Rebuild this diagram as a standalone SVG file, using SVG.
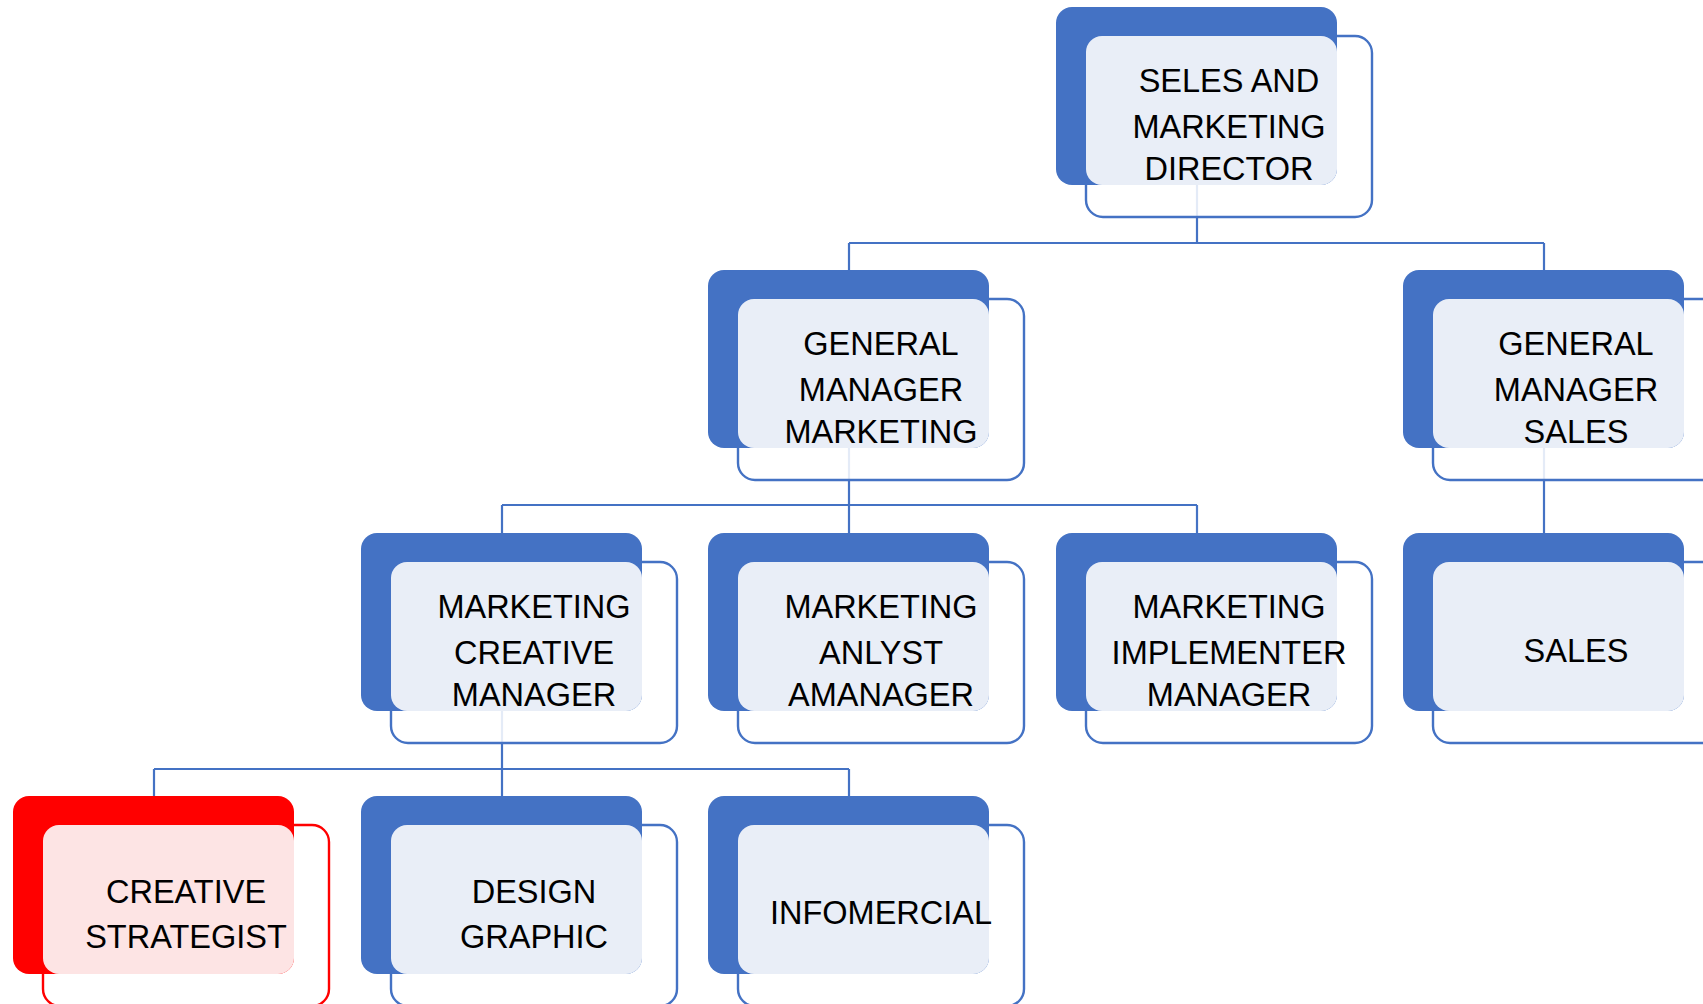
<svg xmlns="http://www.w3.org/2000/svg" width="1703" height="1004" viewBox="0 0 1703 1004">
<style>
.bg{fill:#ffffff}
.ol{fill:#ffffff;fill-opacity:0.86;stroke:#4472C4;stroke-width:2.4}
.bk{fill:#4472C4}
.lt{fill:#E9EEF7}
.red .ol{stroke:#FF0000}
.red .bk{fill:#FF0000}
.red .lt{fill:#FDE4E4}
.t{font-family:"Liberation Sans",Arial,sans-serif;font-size:32.5px;fill:#000;text-anchor:middle}
.c{fill:none;stroke:#4472C4;stroke-width:2.2}
</style>
<rect class="bg" x="0" y="0" width="1703" height="1004"/>
<g id="connectors">
<path class="c" d="M1197 185V243M849 243H1544M849 243V270M1544 243V270"/>
<path class="c" d="M849 448V505M502 505H1197M502 505V533M849 505V533M1197 505V533"/>
<path class="c" d="M1544 448V533"/>
<path class="c" d="M502 711V769M154 769H849M154 769V796M502 769V796M849 769V796"/>
</g>
<g id="n-director">
<rect class="ol" x="1086" y="36" width="286" height="181" rx="17"/>
<rect class="bk" x="1056" y="7" width="281" height="178" rx="16"/>
<rect class="lt" x="1086" y="36" width="251" height="149" rx="16"/>
<text class="t" x="1229" y="92">SELES AND</text>
<text class="t" x="1229" y="138">MARKETING</text>
<text class="t" x="1229" y="180">DIRECTOR</text>
</g>
<g id="n-gm-marketing">
<rect class="ol" x="738" y="299" width="286" height="181" rx="17"/>
<rect class="bk" x="708" y="270" width="281" height="178" rx="16"/>
<rect class="lt" x="738" y="299" width="251" height="149" rx="16"/>
<text class="t" x="881" y="355">GENERAL</text>
<text class="t" x="881" y="401">MANAGER</text>
<text class="t" x="881" y="443">MARKETING</text>
</g>
<g id="n-gm-sales">
<rect class="ol" x="1433" y="299" width="286" height="181" rx="17"/>
<rect class="bk" x="1403" y="270" width="281" height="178" rx="16"/>
<rect class="lt" x="1433" y="299" width="251" height="149" rx="16"/>
<text class="t" x="1576" y="355">GENERAL</text>
<text class="t" x="1576" y="401">MANAGER</text>
<text class="t" x="1576" y="443">SALES</text>
</g>
<g id="n-creative-manager">
<rect class="ol" x="391" y="562" width="286" height="181" rx="17"/>
<rect class="bk" x="361" y="533" width="281" height="178" rx="16"/>
<rect class="lt" x="391" y="562" width="251" height="149" rx="16"/>
<text class="t" x="534" y="618">MARKETING</text>
<text class="t" x="534" y="664">CREATIVE</text>
<text class="t" x="534" y="706">MANAGER</text>
</g>
<g id="n-analyst-manager">
<rect class="ol" x="738" y="562" width="286" height="181" rx="17"/>
<rect class="bk" x="708" y="533" width="281" height="178" rx="16"/>
<rect class="lt" x="738" y="562" width="251" height="149" rx="16"/>
<text class="t" x="881" y="618">MARKETING</text>
<text class="t" x="881" y="664">ANLYST</text>
<text class="t" x="881" y="706">AMANAGER</text>
</g>
<g id="n-implementer-manager">
<rect class="ol" x="1086" y="562" width="286" height="181" rx="17"/>
<rect class="bk" x="1056" y="533" width="281" height="178" rx="16"/>
<rect class="lt" x="1086" y="562" width="251" height="149" rx="16"/>
<text class="t" x="1229" y="618">MARKETING</text>
<text class="t" x="1229" y="664">IMPLEMENTER</text>
<text class="t" x="1229" y="706">MANAGER</text>
</g>
<g id="n-sales">
<rect class="ol" x="1433" y="562" width="286" height="181" rx="17"/>
<rect class="bk" x="1403" y="533" width="281" height="178" rx="16"/>
<rect class="lt" x="1433" y="562" width="251" height="149" rx="16"/>
<text class="t" x="1576" y="662">SALES</text>
</g>
<g id="n-creative-strategist" class="red">
<rect class="ol" x="43" y="825" width="286" height="181" rx="17"/>
<rect class="bk" x="13" y="796" width="281" height="178" rx="16"/>
<rect class="lt" x="43" y="825" width="251" height="149" rx="16"/>
<text class="t" x="186" y="903">CREATIVE</text>
<text class="t" x="186" y="948">STRATEGIST</text>
</g>
<g id="n-design-graphic">
<rect class="ol" x="391" y="825" width="286" height="181" rx="17"/>
<rect class="bk" x="361" y="796" width="281" height="178" rx="16"/>
<rect class="lt" x="391" y="825" width="251" height="149" rx="16"/>
<text class="t" x="534" y="903">DESIGN</text>
<text class="t" x="534" y="948">GRAPHIC</text>
</g>
<g id="n-infomercial">
<rect class="ol" x="738" y="825" width="286" height="181" rx="17"/>
<rect class="bk" x="708" y="796" width="281" height="178" rx="16"/>
<rect class="lt" x="738" y="825" width="251" height="149" rx="16"/>
<text class="t" x="881" y="924">INFOMERCIAL</text>
</g>
</svg>
